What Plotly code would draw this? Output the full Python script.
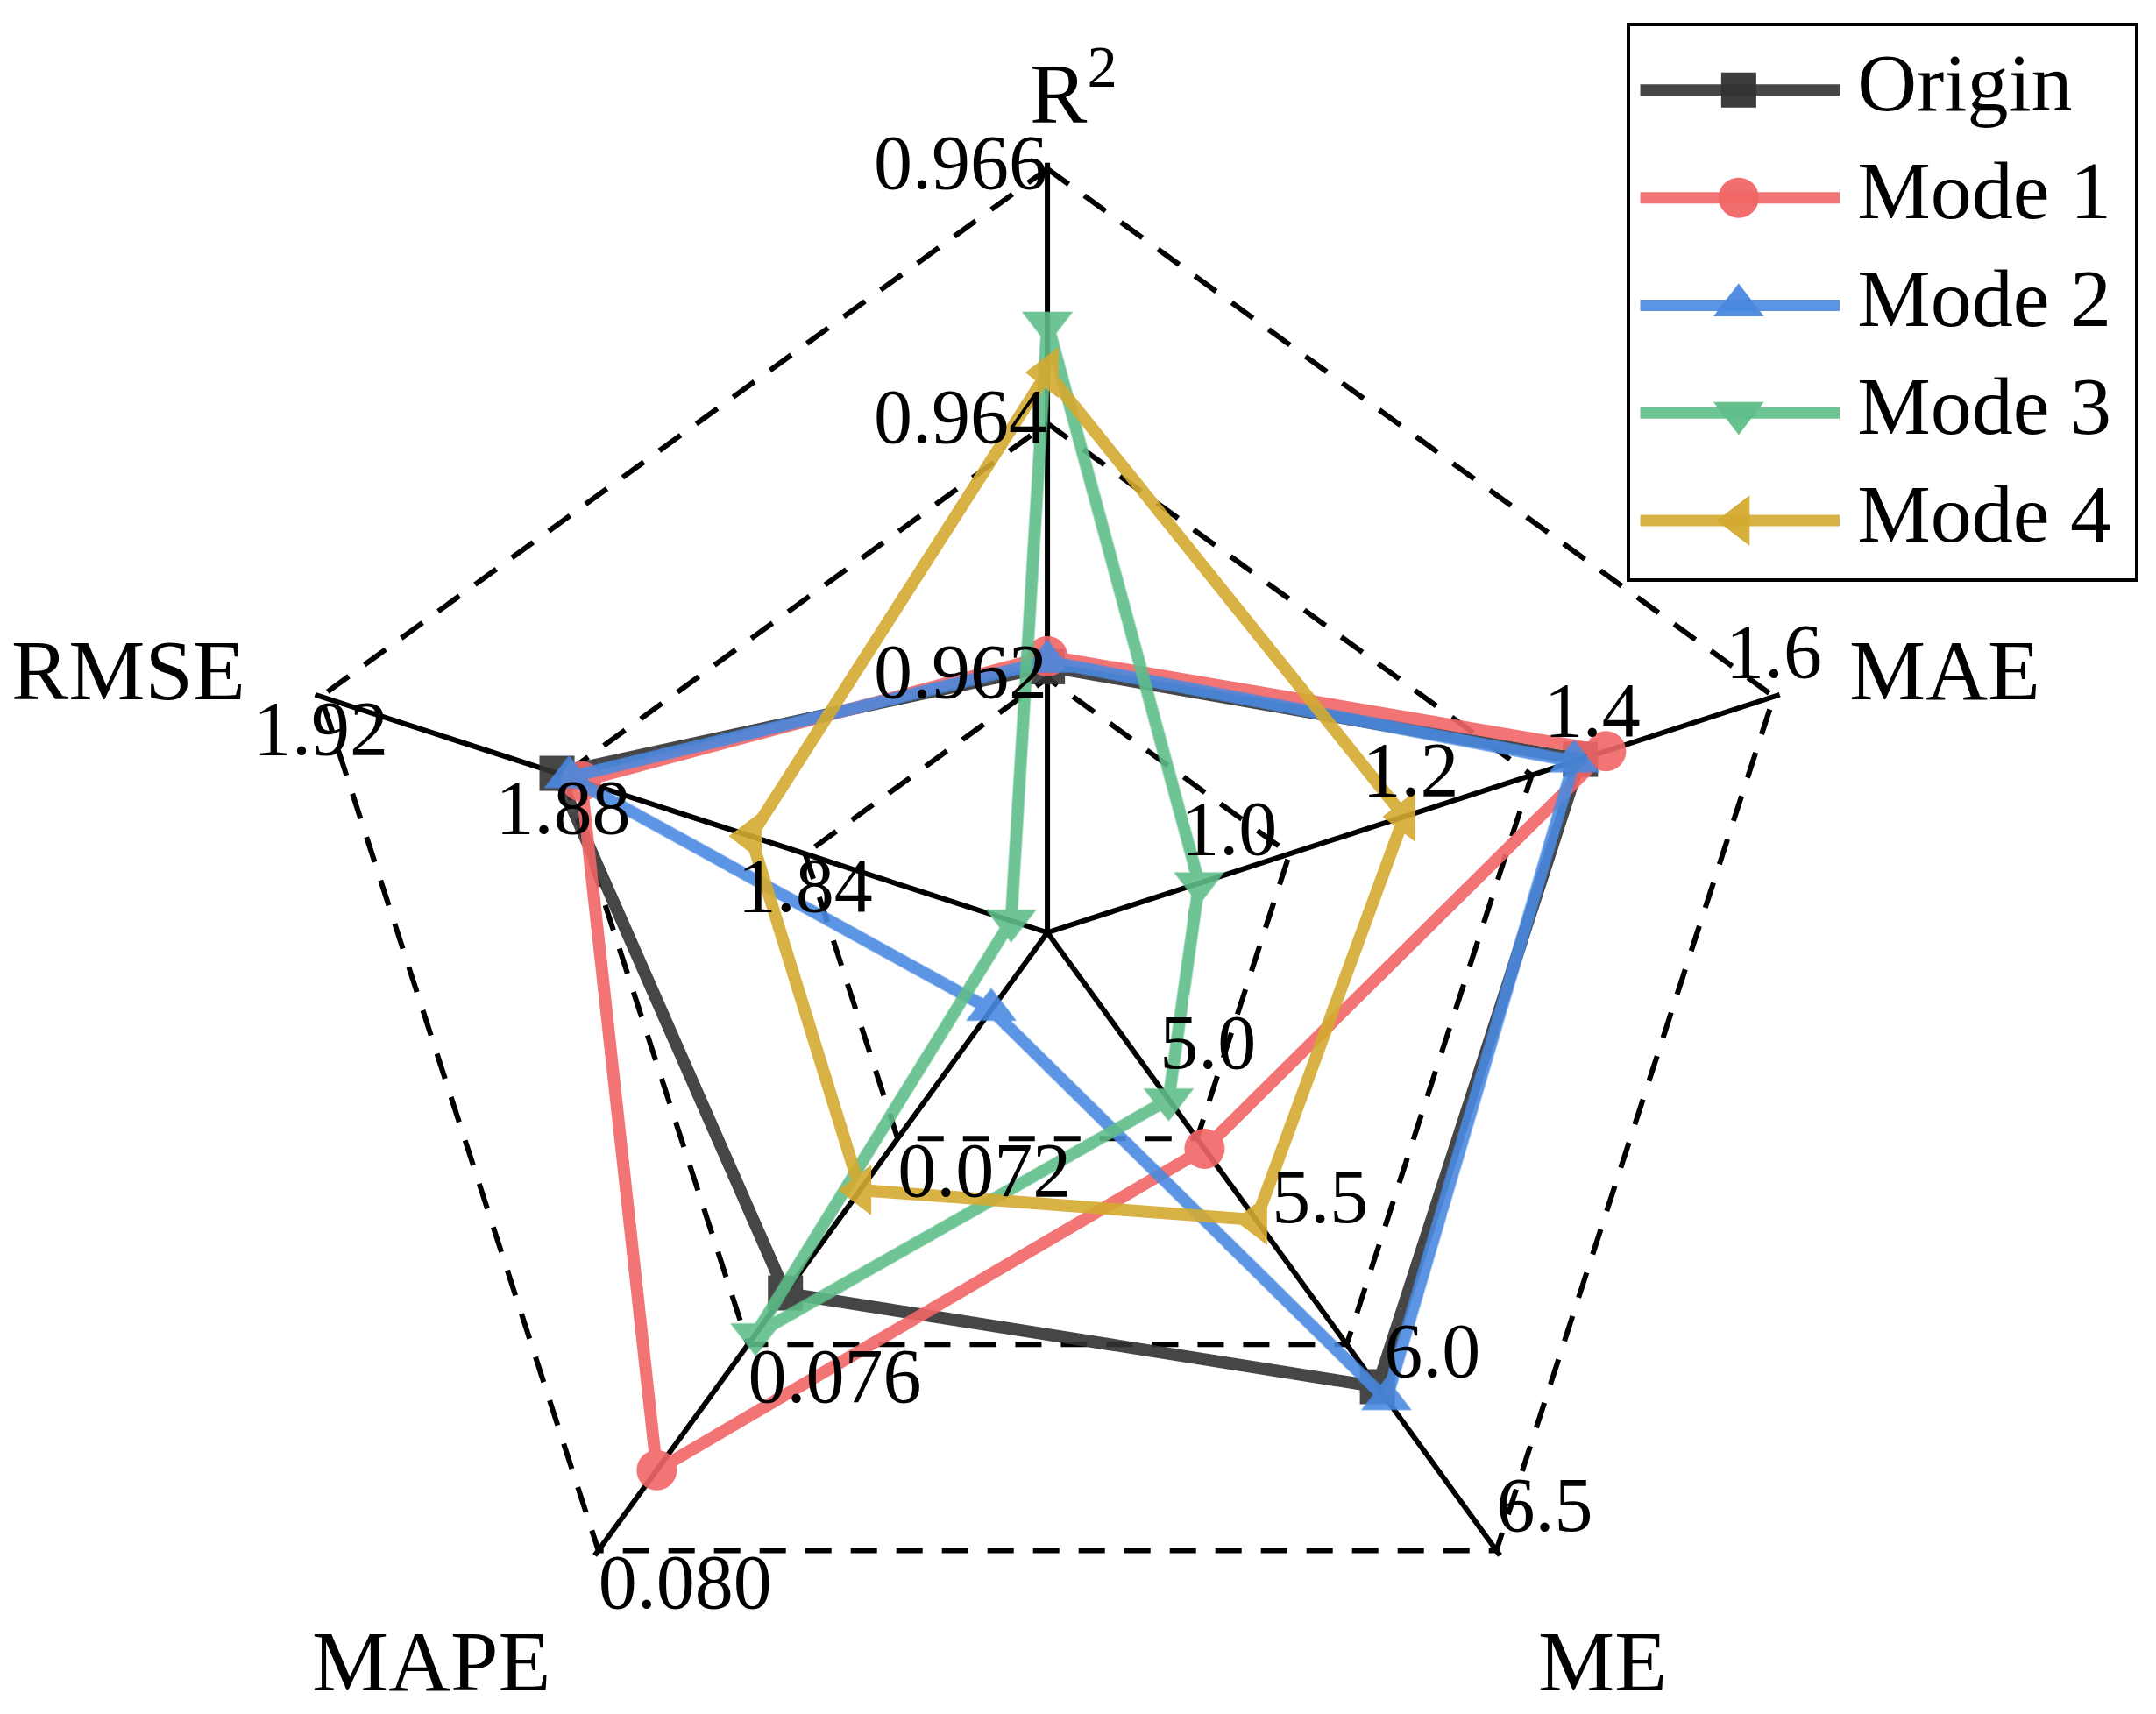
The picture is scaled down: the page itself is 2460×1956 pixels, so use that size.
import plotly.graph_objects as go

# ---- axes (each spoke has its own scale) ----
axis_keys = ["R2", "MAE", "ME", "MAPE", "RMSE"]
axis_titles = ["R<sup>2</sup>", "MAE", "ME", "MAPE", "RMSE"]
axis_min = [0.960, 0.8, 4.5, 0.068, 1.80]
axis_max = [0.966, 1.6, 6.5, 0.080, 1.92]

r2_ticks = [0.962, 0.964, 0.966]
mae_ticks = [1.0, 1.2, 1.4, 1.6]
me_ticks = [5.0, 5.5, 6.0, 6.5]
mape_ticks = [0.072, 0.076, 0.080]
rmse_ticks = [1.84, 1.88, 1.92]
r2_tick_text = ["0.962", "0.964", "0.966"]
mae_tick_text = ["1.0", "1.2", "1.4", "1.6"]
me_tick_text = ["5.0", "5.5", "6.0", "6.5"]
mape_tick_text = ["0.072", "0.076", "0.080"]
rmse_tick_text = ["1.84", "1.88", "1.92"]

# ---- series values: R2, MAE, ME, MAPE, RMSE ----
series_names = ["Origin", "Mode 1", "Mode 2", "Mode 3", "Mode 4"]
origin = [0.96209, 1.387, 5.97, 0.0750, 1.881]
mode1 = [0.96217, 1.415, 5.20, 0.07844, 1.877]
mode2 = [0.96213, 1.380, 6.01, 0.0695, 1.879]
mode3 = [0.96479, 0.967, 5.04, 0.0758, 1.806]
mode4 = [0.96440, 1.193, 5.43, 0.0730, 1.849]

colors = ["#333333", "#F26666", "#4A89E0", "#5FBE8A", "#D4AA30"]
symbols = ["square", "circle", "triangle-up", "triangle-down", "triangle-left"]
msizes = [40, 46, 50, 50, 50]

FONT = "Liberation Serif"
W, H = 2460, 1956


def norm(i, v):
    return (v - axis_min[i]) / (axis_max[i] - axis_min[i])


fig = go.Figure()

# outer dashed frame of the web (r = 1 on every spoke)
fig.add_trace(go.Scatterpolar(
    r=[1] * (len(axis_keys) + 1), theta=axis_keys + [axis_keys[0]],
    mode="lines", line=dict(color="black", width=6, dash="30px,22px"),
    showlegend=False, hoverinfo="skip", cliponaxis=False))

for name, vals, c, s, ms in zip(series_names, [origin, mode1, mode2, mode3, mode4],
                                colors, symbols, msizes):
    r = [norm(i, v) for i, v in enumerate(vals)]
    fig.add_trace(go.Scatterpolar(
        r=r + [r[0]], theta=axis_keys + [axis_keys[0]],
        mode="lines+markers", name=name, showlegend=False,
        line=dict(color=c, width=14),
        marker=dict(symbol=s, size=ms, color=c, line=dict(width=0)),
        opacity=0.9, cliponaxis=False,
    ))

# ---- per-axis tick labels ----
tick_sets = [
    (0, r2_ticks, r2_tick_text, "middle left"),
    (1, mae_ticks, mae_tick_text, "top center"),
    (2, me_ticks, me_tick_text, "top right"),
    (3, mape_ticks, mape_tick_text, "bottom right"),
    (4, rmse_ticks, rmse_tick_text, "bottom center"),
]
for i, tv, tt, pos in tick_sets:
    fig.add_trace(go.Scatterpolar(
        r=[norm(i, v) for v in tv], theta=[axis_keys[i]] * len(tv),
        mode="text", text=tt, textposition=pos,
        textfont=dict(family=FONT, size=88, color="black"),
        showlegend=False, hoverinfo="skip", cliponaxis=False,
    ))

# ---- axis titles (annotations, paper coords) ----
title_xy = [(1217, 92, "center"), (2100, 757, "left"), (1745, 1888, "left"),
            (346, 1888, "left"), (3, 757, "left")]
for t, (x, y, xa) in zip(axis_titles, title_xy):
    fig.add_annotation(x=x / W, y=1 - y / H, xref="paper", yref="paper",
                       text=t, showarrow=False, xanchor=xa, yanchor="middle",
                       font=dict(family=FONT, size=98, color="black"))

# ---- custom legend drawn in its own small cartesian panel ----
leg_rows = list(range(len(series_names)))
for k, (name, c, s, ms) in enumerate(zip(series_names, colors, symbols, msizes)):
    fig.add_trace(go.Scatter(
        x=[0.02, 0.415], y=[k, k], mode="lines",
        line=dict(color=c, width=13), opacity=0.9,
        xaxis="x2", yaxis="y2", showlegend=False, hoverinfo="skip"))
    fig.add_trace(go.Scatter(
        x=[0.215], y=[k], mode="markers",
        marker=dict(symbol=s, size=ms, color=c, line=dict(width=0)),
        opacity=0.95, xaxis="x2", yaxis="y2", showlegend=False, hoverinfo="skip"))
fig.add_trace(go.Scatter(
    x=[0.45] * len(series_names), y=leg_rows, mode="text",
    text=series_names, textposition="middle right",
    textfont=dict(family=FONT, size=94, color="black"),
    xaxis="x2", yaxis="y2", showlegend=False, hoverinfo="skip", cliponaxis=False))

fig.update_layout(
    width=W, height=H,
    margin=dict(l=0, r=0, t=0, b=0),
    paper_bgcolor="white", plot_bgcolor="white",
    font=dict(family=FONT, size=84, color="black"),
    showlegend=False,
    polar=dict(
        domain=dict(x=[0.1254, 0.8397], y=[0.0106, 0.9094]),
        bgcolor="white",
        gridshape="linear",
        radialaxis=dict(range=[0, 1.008], tickvals=[1 / 3, 2 / 3],
                        showticklabels=False, ticks="", showline=False,
                        showgrid=True, gridcolor="black", gridwidth=6,
                        griddash="30px,22px"),
        angularaxis=dict(direction="clockwise", rotation=90,
                         categoryorder="array", categoryarray=axis_keys,
                         showticklabels=False, ticks="", showline=False,
                         showgrid=True, gridcolor="black", gridwidth=6),
    ),
    xaxis2=dict(domain=[1852 / W, 2428 / W], range=[0, 1], anchor="y2",
                showgrid=False, zeroline=False, showticklabels=False, ticks="",
                showline=True, mirror=True, linecolor="black", linewidth=4,
                fixedrange=True),
    yaxis2=dict(domain=[1 - 652 / H, 1 - 22 / H], range=[4.537, -0.593], anchor="x2",
                showgrid=False, zeroline=False, showticklabels=False, ticks="",
                showline=True, mirror=True, linecolor="black", linewidth=4,
                fixedrange=True),
)

fig.write_html("out.html")
